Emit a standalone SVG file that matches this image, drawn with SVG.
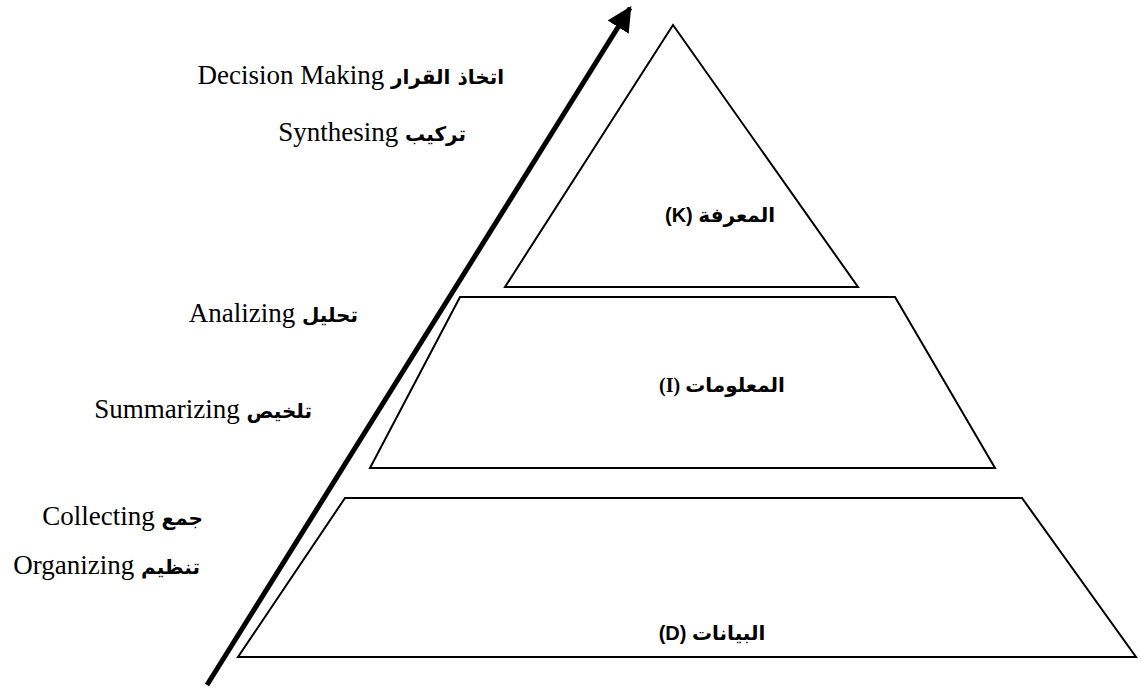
<svg xmlns="http://www.w3.org/2000/svg" width="1141" height="690" viewBox="0 0 1141 690">
  <style>
    .shape { fill: none; stroke: #000; stroke-width: 2; stroke-linejoin: miter; }
    .step { font-family: "Liberation Serif", "Times New Roman", serif; font-size: 27px; fill: #000; }
    .ar { font-family: "DejaVu Sans", "Liberation Sans", sans-serif; font-weight: bold; font-size: 20px; }
    .level { font-family: "DejaVu Sans", "Liberation Sans", sans-serif; font-weight: bold; font-size: 20px; fill: #000; text-anchor: middle; }
    .lat { font-family: "Liberation Sans", Arial, sans-serif; font-weight: bold; }
  </style>
  <defs>
    <marker id="head" viewBox="0 0 10 10" refX="9" refY="5" markerWidth="5" markerHeight="5" markerUnits="strokeWidth" orient="auto">
      <path d="M0,0 L10,5 L0,10 z" fill="#000"/>
    </marker>
  </defs>
  <rect width="1141" height="690" fill="#fff"/>

  <!-- pyramid levels -->
  <g id="knowledge">
    <polygon class="shape" points="673,25 858,287 505,287"/>
    <text class="level" x="720" y="222"><tspan class="lat">(K) </tspan><tspan>المعرفة</tspan></text>
  </g>
  <g id="information">
    <polygon class="shape" points="460,297 895,297 995,468 370,468"/>
    <text class="level" x="722" y="392"><tspan font-family="Liberation Serif, serif">(I) </tspan><tspan>المعلومات</tspan></text>
  </g>
  <g id="data">
    <polygon class="shape" points="345,498 1022,498 1136,657 238,657"/>
    <text class="level" x="712" y="640"><tspan class="lat">(D) </tspan><tspan>البيانات</tspan></text>
  </g>

  <!-- upward process arrow, parallel to the pyramid's left flank -->
  <g id="connectors">
    <line x1="207" y1="685" x2="630" y2="8" stroke="#000" stroke-width="5" marker-end="url(#head)"/>
  </g>

  <!-- process steps -->
  <g id="steps" text-anchor="end">
    <text class="step" x="504" y="84">Decision Making <tspan class="ar">اتخاذ القرار</tspan></text>
    <text class="step" x="466" y="141">Synthesing <tspan class="ar">تركيب</tspan></text>
    <text class="step" x="358" y="322">Analizing <tspan class="ar">تحليل</tspan></text>
    <text class="step" x="312" y="418">Summarizing <tspan class="ar">تلخيص</tspan></text>
    <text class="step" x="203" y="525">Collecting <tspan class="ar">جمع</tspan></text>
    <text class="step" x="200" y="574">Organizing <tspan class="ar">تنظيم</tspan></text>
  </g>
</svg>
